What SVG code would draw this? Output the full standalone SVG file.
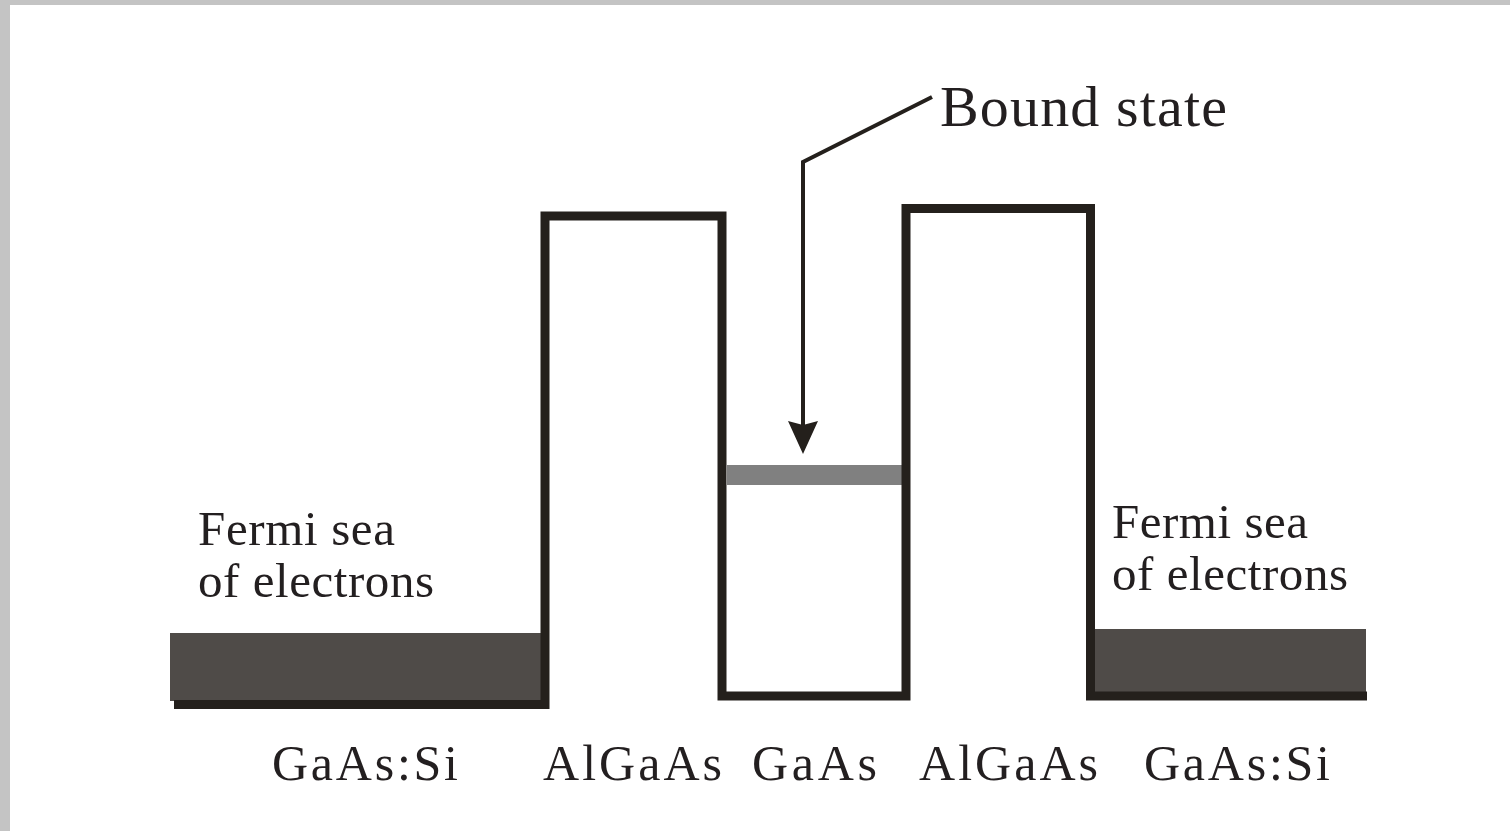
<svg xmlns="http://www.w3.org/2000/svg" width="1510" height="831" viewBox="0 0 1510 831">
  <style>
    .lbl { font-family: "Liberation Serif", "Times New Roman", serif; fill: #231f20; }
    .edge { fill: none; stroke: #24201c; stroke-width: 9; stroke-linejoin: miter; stroke-linecap: butt; }
    .sea { fill: #4f4b48; }
    .ptr { fill: none; stroke: #24201c; stroke-width: 4; stroke-linejoin: miter; }
  </style>
  <defs>
    <!-- barbed head, pointing along +x -->
    <marker id="arrowhead" markerUnits="userSpaceOnUse" markerWidth="36" markerHeight="32" refX="4" refY="15" orient="auto" viewBox="0 0 36 30">
      <path d="M0,0 L4,15 L0,30 L33,15 Z" fill="#24201c"/>
    </marker>
  </defs>

  <!-- page frame -->
  <rect x="0" y="0" width="1510" height="831" fill="#ffffff"/>
  <rect x="0" y="0" width="1510" height="5" fill="#c4c4c4"/>
  <rect x="0" y="0" width="10" height="831" fill="#c4c4c4"/>

  <!-- filled electron reservoirs -->
  <g id="fermi-left">
    <rect class="sea" x="170" y="633" width="372" height="68"/>
    <text class="lbl" x="198" y="545" font-size="49" textLength="197" lengthAdjust="spacing">Fermi sea</text>
    <text class="lbl" x="198" y="597" font-size="49" textLength="236" lengthAdjust="spacing">of electrons</text>
  </g>
  <g id="fermi-right">
    <rect class="sea" x="1092" y="629" width="274" height="65"/>
    <text class="lbl" x="1112" y="538" font-size="49" textLength="196" lengthAdjust="spacing">Fermi sea</text>
    <text class="lbl" x="1112" y="590" font-size="49" textLength="236" lengthAdjust="spacing">of electrons</text>
  </g>

  <!-- bound state level in the well -->
  <g id="bound-level">
    <rect x="727" y="465" width="176" height="20" fill="#808080"/>
  </g>

  <!-- conduction band edge: barriers and well -->
  <g id="band-profile">
    <path class="edge" d="M174,704.5 H545 V216 H722 V696 H906 V208.5 H1090.5 V696 H1367"/>
  </g>

  <!-- pointer to the bound state -->
  <g id="connectors">
    <path class="ptr" d="M932,97 L803,162 V425" marker-end="url(#arrowhead)"/>
  </g>

  <g id="label-bound">
    <text class="lbl" x="940" y="126" font-size="58" textLength="287" lengthAdjust="spacing">Bound state</text>
  </g>

  <!-- layer names -->
  <g id="layers">
    <text class="lbl" x="272" y="780" font-size="50" textLength="186" lengthAdjust="spacing">GaAs:Si</text>
    <text class="lbl" x="543" y="780" font-size="50" textLength="179" lengthAdjust="spacing">AlGaAs</text>
    <text class="lbl" x="752" y="780" font-size="50" textLength="125" lengthAdjust="spacing">GaAs</text>
    <text class="lbl" x="919" y="780" font-size="50" textLength="179" lengthAdjust="spacing">AlGaAs</text>
    <text class="lbl" x="1144" y="780" font-size="50" textLength="186" lengthAdjust="spacing">GaAs:Si</text>
  </g>
</svg>
